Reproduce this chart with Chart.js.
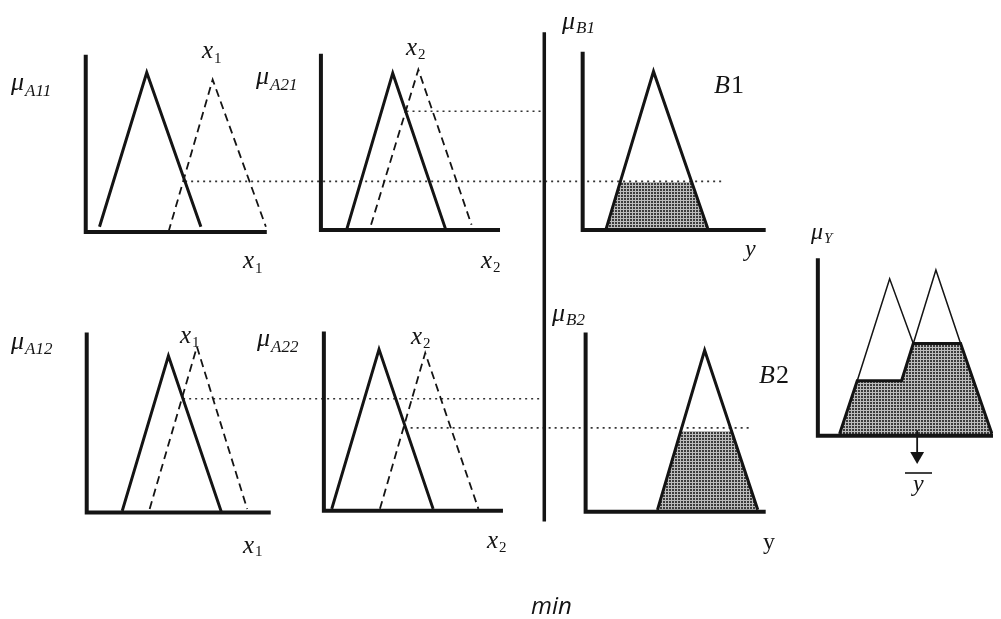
<!DOCTYPE html>
<html>
<head>
<meta charset="utf-8">
<script src="https://cdn.jsdelivr.net/npm/chart.js@4.4.0/dist/chart.umd.min.js"></script>
<style>
  html, body { margin: 0; padding: 0; background: #fff; }
  canvas { display: block; }
</style>
</head>
<body>
<canvas id="fz" width="1001" height="619"></canvas>
<script>
'use strict';

// ── DATA ───────────────────────────────────────────────────
// local units in every panel: x runs 0..10 along the x-axis, mu 0..1 of the y-axis height
const A11_SOLID = [[0.76, 0.03], [3.37, 0.90], [6.36, 0.03]];
const A11_DASH  = [[4.57, 0.00], [7.01, 0.86], [9.95, 0.03]];
const A21_SOLID = [[1.43, 0.00], [4.01, 0.89], [6.98, 0.00]];
const A21_DASH  = [[2.80, 0.03], [5.44, 0.91], [8.41, 0.03]];
const B1_TRI    = [[1.29, 0.01], [3.87, 0.89], [6.83, 0.01]];

const A12_SOLID = [[1.93, 0.01], [4.44, 0.87], [7.33, 0.00]];
const A12_DASH  = [[3.42, 0.02], [5.99, 0.92], [8.72, 0.02]];
const A22_SOLID = [[0.44, 0.01], [3.08, 0.90], [6.10, 0.01]];
const A22_DASH  = [[3.13, 0.01], [5.66, 0.88], [8.63, 0.01]];
const B2_TRI    = [[3.99, 0.01], [6.61, 0.90], [9.56, 0.01]];

const B1_CUT = 0.27;
const B2_CUT = 0.45;

const Y_AGG   = [[1.24, 0.01], [2.25, 0.31], [4.78, 0.31], [5.45, 0.52], [8.15, 0.52], [9.94, 0.01]];
const Y_PEAK1 = [[2.25, 0.31], [4.10, 0.885], [5.45, 0.52]];
const Y_PEAK2 = [[5.45, 0.52], [6.74, 0.934], [8.15, 0.52]];
const Y_CENTROID = 5.67;

// firing lines: start panel, start x, level there, end panel, end x
const FIRE_LINES = [
  ['A11', 5.49, 0.286, 'B1', 7.69],
  ['A21', 4.78, 0.674, 'B1', -2.10],
  ['A12', 5.24, 0.632, 'B2', -2.30],
  ['A22', 4.51, 0.462, 'B2', 9.07]
];

// ── LAYOUT (page pixels) ───────────────────────────────────
const PANELS = {
  A11: { x0: 79,  y0: 230, w: 184, h: 182 },
  A21: { x0: 318, y0: 228, w: 182, h: 181 },
  B1:  { x0: 584, y0: 228, w: 186, h: 183 },
  A12: { x0: 80,  y0: 518, w: 187, h: 185 },
  A22: { x0: 321, y0: 516, w: 182, h: 184 },
  B2:  { x0: 587, y0: 517, w: 183, h: 184 },
  Y:   { x0: 823, y0: 439, w: 178, h: 182 }
};
const SEPARATOR = { x: 545, top: 25, bottom: 527 };

const SERIF = '"Liberation Serif", "DejaVu Serif", serif';
// main text, subscript, x, baseline, main size, sub size, sub drop, main italic, sub italic
const LABELS = [
  ['μ', 'A11', 11, 90, 26, 17, 6, true, true],
  ['μ', 'A21', 256, 84, 26, 17, 6, true, true],
  ['μ', 'A12', 11, 349, 26, 17, 5, true, true],
  ['μ', 'A22', 257, 346, 26, 17, 6, true, true],
  ['μ', 'B1', 562, 29, 26, 17, 4, true, true],
  ['μ', 'B2', 552, 321, 26, 17, 4, true, true],
  ['μ', 'Y', 811, 239, 24, 15, 4, true, true],
  ['x', '1', 202, 58, 25, 15, 5, true, false],
  ['x', '2', 406, 55, 25, 15, 4, true, false],
  ['x', '1', 180, 343, 25, 15, 4, true, false],
  ['x', '2', 411, 344, 25, 15, 4, true, false],
  ['x', '1', 243, 268, 25, 15, 5, true, false],
  ['x', '2', 481, 268, 25, 15, 4, true, false],
  ['x', '1', 243, 553, 25, 15, 3, true, false],
  ['x', '2', 487, 548, 25, 15, 4, true, false],
  ['y', '', 745, 256, 24, 0, 0, true, false],
  ['y', '', 763, 549, 24, 0, 0, false, false],
  ['B', '1', 714, 93, 26, 26, 0, true, false],
  ['B', '2', 759, 383, 26, 26, 0, true, false]
];

// ── HELPERS ────────────────────────────────────────────────
function toPage(panel, pt) {
  const p = PANELS[panel];
  return { x: p.x0 + pt[0] / 10 * p.w, y: p.y0 - pt[1] * p.h };
}

function clipTri(tri, cut) {
  const [a, b, c] = tri;
  const lx = a[0] + (cut - a[1]) / (b[1] - a[1]) * (b[0] - a[0]);
  const rx = c[0] + (cut - c[1]) / (b[1] - c[1]) * (b[0] - c[0]);
  return [a, [lx, cut], [rx, cut], c];
}

function makeStipple() {
  const t = document.createElement('canvas');
  t.width = 3; t.height = 3;
  const g = t.getContext('2d');
  g.fillStyle = '#bcbcbc';
  g.fillRect(0, 0, 3, 3);
  g.fillStyle = '#3c3c3c';
  g.fillRect(0, 0, 2, 2);
  return g.createPattern(t, 'repeat');
}

const INK = '#141414';
const datasets = [];

function line(panel, pts, extra) {
  datasets.push(Object.assign({
    data: pts.map(p => toPage(panel, p)),
    showLine: true, borderColor: INK, borderWidth: 3,
    pointRadius: 0, fill: false, order: 1,
    borderJoinStyle: 'miter', borderCapStyle: 'butt'
  }, extra || {}));
}

// ── BUILD ──────────────────────────────────────────────────
const stipple = makeStipple();

// shaded areas first
line('B1', clipTri(B1_TRI, B1_CUT), { borderWidth: 0, fill: 'shape', backgroundColor: stipple, order: 3 });
line('B2', clipTri(B2_TRI, B2_CUT), { borderWidth: 0, fill: 'shape', backgroundColor: stipple, order: 3 });
line('Y', Y_AGG, { fill: 'shape', backgroundColor: stipple, order: 2, borderWidth: 3 });

// membership functions
[['A11', A11_SOLID, A11_DASH], ['A21', A21_SOLID, A21_DASH],
 ['A12', A12_SOLID, A12_DASH], ['A22', A22_SOLID, A22_DASH]].forEach(([p, s, d]) => {
  line(p, s);
  line(p, d, { borderWidth: 1.8, borderDash: [8, 5] });
});
line('B1', B1_TRI);
line('B2', B2_TRI);
line('Y', Y_PEAK1, { borderWidth: 1.5 });
line('Y', Y_PEAK2, { borderWidth: 1.5 });

// firing (min) lines
FIRE_LINES.forEach(([p0, x0, lv, p1, x1]) => {
  const a = toPage(p0, [x0, lv]);
  const b = toPage(p1, [x1, 0]);
  datasets.push({
    data: [a, { x: b.x, y: a.y }], showLine: true, borderColor: '#333',
    borderWidth: 1.6, borderDash: [2, 4], pointRadius: 0, order: 1
  });
});

// axes
Object.keys(PANELS).forEach(p => line(p, [[0, 1], [0, 0], [10, 0]], { borderWidth: 4, order: 0 }));

// separator
datasets.push({
  data: [{ x: SEPARATOR.x, y: SEPARATOR.top }, { x: SEPARATOR.x, y: SEPARATOR.bottom }],
  showLine: true, borderColor: INK, borderWidth: 3.5, pointRadius: 0, order: 0
});

// defuzzified output arrow
line('Y', [[Y_CENTROID, 0.03], [Y_CENTROID, -0.10]], { borderWidth: 1.8, order: 0 });
datasets.push({
  data: [toPage('Y', [Y_CENTROID, -0.115])], showLine: false,
  pointStyle: 'triangle', rotation: 180, pointRadius: 8,
  backgroundColor: INK, borderColor: INK, borderWidth: 0, order: 0
});

// ── TEXT ───────────────────────────────────────────────────
const textPlugin = {
  id: 'fuzzyText',
  afterDraw(chart) {
    const ctx = chart.ctx;
    ctx.save();
    ctx.fillStyle = INK;
    ctx.textBaseline = 'alphabetic';
    ctx.textAlign = 'left';
    LABELS.forEach(([m, s, x, y, ms, ss, drop, mainIt, subIt]) => {
      ctx.font = (mainIt ? 'italic ' : '') + ms + 'px ' + SERIF;
      ctx.fillText(m, x, y);
      const w = ctx.measureText(m).width;
      if (s) {
        ctx.font = (subIt ? 'italic ' : '') + ss + 'px ' + SERIF;
        ctx.fillText(s, x + w + 1, y + drop);
      }
    });
    // y-bar under the arrow
    ctx.font = 'italic 24px ' + SERIF;
    ctx.fillText('y', 913, 491);
    ctx.strokeStyle = INK;
    ctx.lineWidth = 1.6;
    ctx.beginPath();
    ctx.moveTo(905, 473);
    ctx.lineTo(932, 473);
    ctx.stroke();
    // operator caption
    ctx.font = 'italic 24px "Open Sans", "Noto Sans", sans-serif';
    ctx.fillText('min', 531, 614);
    ctx.restore();
  }
};

// ── INIT ───────────────────────────────────────────────────
new Chart(document.getElementById('fz'), {
  type: 'scatter',
  data: { datasets },
  options: {
    responsive: false,
    animation: false,
    events: [],
    layout: { padding: 0 },
    elements: { line: { tension: 0 } },
    plugins: { legend: { display: false }, tooltip: { enabled: false } },
    scales: {
      x: { type: 'linear', min: 0, max: 1001, display: false },
      y: { type: 'linear', min: 0, max: 619, reverse: true, display: false }
    }
  },
  plugins: [textPlugin]
});
</script>
</body>
</html>
